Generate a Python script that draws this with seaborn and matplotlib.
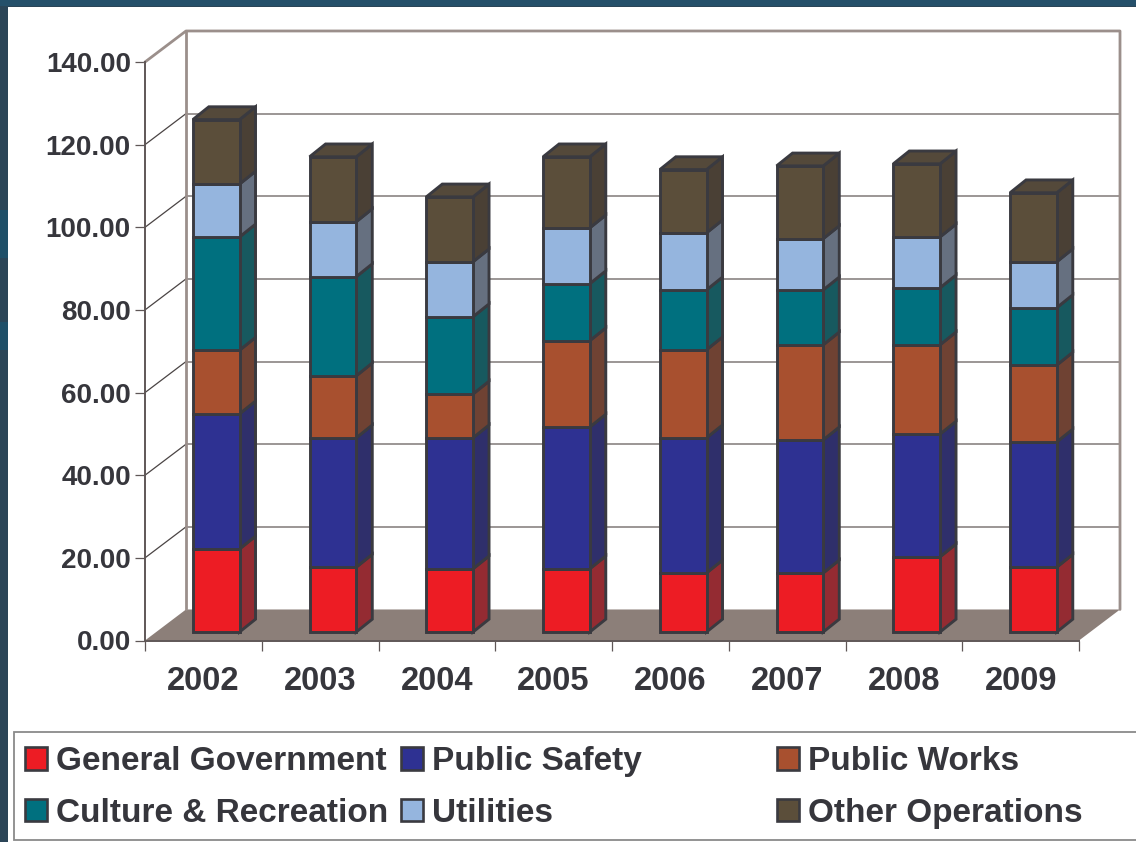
import matplotlib
matplotlib.use("Agg")
import matplotlib.pyplot as plt
from matplotlib.patches import Polygon, Rectangle, Patch
from matplotlib.transforms import Affine2D
import pandas as pd
import seaborn as sns

years = ["2002", "2003", "2004", "2005", "2006", "2007", "2008", "2009"]
general_government = [20.1, 15.7, 15.3, 15.3, 14.3, 14.3, 18.2, 15.7]
public_safety = [32.7, 31.3, 31.7, 34.3, 32.7, 32.2, 29.7, 30.3]
public_works = [15.4, 15.0, 10.6, 20.9, 21.3, 23.0, 21.6, 18.6]
culture_recreation = [27.4, 24.0, 18.7, 13.8, 14.5, 13.3, 13.8, 13.9]
utilities = [12.8, 13.3, 13.3, 13.5, 13.8, 12.4, 12.3, 11.1]
other_operations = [15.6, 15.7, 15.7, 17.2, 15.3, 17.6, 17.7, 16.7]

series_names = ["General Government", "Public Safety", "Public Works",
                "Culture & Recreation", "Utilities", "Other Operations"]
series_values = [general_government, public_safety, public_works,
                 culture_recreation, utilities, other_operations]
front_colors = ["#ed1c24", "#2e3192", "#a8502f", "#00707f", "#95b5de", "#5b4e3a"]
side_colors = ["#942b32", "#2f2f6b", "#6f4233", "#17595f", "#667080", "#4a4035"]
TOP_COLOR = "#54493a"
INK = "#36363c"
EDGE = "#3a3a40"
BAR_LW = 2.1

W, H = 1136, 842
sns.set_style("white")
plt.rcParams["font.family"] = ["Liberation Sans", "DejaVu Sans"]

fig = plt.figure(figsize=(W / 100, H / 100), dpi=100, facecolor="#2b4557")


def fig_box(x0, y0, x1, y1):
    """Figure-fraction rectangle from pixel corners measured from the top left."""
    return [x0 / W, 1 - y1 / H, (x1 - x0) / W, (y1 - y0) / H]


def page_rect(x0, y0, x1, y1, **style):
    """Add a figure-level rectangle given in pixels from the top left."""
    left, bottom, width, height = fig_box(x0, y0, x1, y1)
    fig.patches.append(Rectangle((left, bottom), width, height,
                                 transform=fig.transFigure, **style))


# Slide background: header band, lighter streaks on the left edge, white page
page_rect(0, 0, W, 6, facecolor="#25506a", edgecolor="none", zorder=-7)
page_rect(0, 210, 8, 258, facecolor="#1f4f68", edgecolor="none", zorder=-7)
page_rect(0, 322, 8, 350, facecolor="#1f4f68", edgecolor="none", zorder=-7)
page_rect(8, 7, W, H, facecolor="white", edgecolor="none", zorder=-5)

ax = fig.add_axes(fig_box(145, 62, 1079, 640.5))
ax.patch.set_alpha(0)

# Depth of the chart box and of the bars, in data units
BOX_DX, BOX_DY = 41 / 116.75, 31 / 4.13
BAR_DX, BAR_DY = 16 / 116.75, 12.8 / 4.13
BAR_WIDTH = 0.40
SHIFT_X, SHIFT_Y = 12.8 / 116.75, 8.5 / 4.13

table = pd.DataFrame({"year": years})
cumulative = [0.0] * len(years)
bars_transform = Affine2D().translate(SHIFT_X, SHIFT_Y) + ax.transData

for name, values, front, side in zip(series_names, series_values, front_colors, side_colors):
    table[name] = values
    sns.barplot(data=table, x="year", y=name, bottom=cumulative, ax=ax, color=front,
                saturation=1, width=BAR_WIDTH, errorbar=None, edgecolor=EDGE,
                linewidth=BAR_LW, zorder=4)
    for i, (base, value) in enumerate(zip(cumulative, values)):
        right = i + BAR_WIDTH / 2
        top = base + value
        ax.add_patch(Polygon(
            [(right, base), (right + BAR_DX, base + BAR_DY),
             (right + BAR_DX, top + BAR_DY), (right, top)],
            closed=True, facecolor=side, edgecolor=EDGE, linewidth=BAR_LW,
            transform=bars_transform, zorder=3, clip_on=False))
    cumulative = [c + v for c, v in zip(cumulative, values)]

# Cap on each stack
for i, total in enumerate(cumulative):
    left, right = i - BAR_WIDTH / 2, i + BAR_WIDTH / 2
    ax.add_patch(Polygon(
        [(left, total), (left + BAR_DX, total + BAR_DY),
         (right + BAR_DX, total + BAR_DY), (right, total)],
        closed=True, facecolor=TOP_COLOR, edgecolor=EDGE, linewidth=BAR_LW,
        transform=bars_transform, zorder=3, clip_on=False))

for patch in ax.patches:
    if patch.get_zorder() == 4:
        patch.set_transform(bars_transform)
        patch.set_clip_on(False)

x0, x1 = -0.5, len(years) - 0.5
y_ticks = list(range(0, 141, 20))
ax.set_xlim(x0, x1)
ax.set_ylim(0, 140)

# Chart box: floor, back wall and gridlines
ax.add_patch(Polygon([(x0, 0), (x0 + BOX_DX, BOX_DY), (x1 + BOX_DX, BOX_DY), (x1, 0)],
                     closed=True, facecolor="#8c7f79", edgecolor="none",
                     zorder=1, clip_on=False))
for v in y_ticks[1:-1]:
    ax.plot([x0 + BOX_DX, x1 + BOX_DX], [v + BOX_DY] * 2, color="#8a8483", lw=1.2,
            zorder=1.5, clip_on=False)
    ax.plot([x0, x0 + BOX_DX], [v, v + BOX_DY], color="#4a4444", lw=0.9,
            zorder=1.5, clip_on=False)
wall = dict(color="#9b8f8b", lw=2.0, zorder=1.6, clip_on=False, solid_capstyle="round")
ax.plot([x0, x0 + BOX_DX, x1 + BOX_DX, x1 + BOX_DX], [140, 140 + BOX_DY, 140 + BOX_DY, BOX_DY], **wall)
ax.plot([x0 + BOX_DX, x0 + BOX_DX], [BOX_DY, 140 + BOX_DY], **wall)

sns.despine(ax=ax, top=True, right=True)
for side_name in ("left", "bottom"):
    ax.spines[side_name].set_color("#5f5757")
    ax.spines[side_name].set_linewidth(1.4)
    ax.spines[side_name].set_zorder(2)

ax.set_xlabel("")
ax.set_ylabel("")
ax.set_yticks(y_ticks, [f"{v:.2f}" for v in y_ticks], fontsize=20, fontweight="bold", color=INK)
ax.tick_params(axis="y", length=7.2, width=0.9, color="#5f5757", pad=3, left=True)
ax.set_xticks([x0 + i for i in range(len(years) + 1)], [""] * (len(years) + 1))
ax.tick_params(axis="x", which="major", length=7.2, width=0.9, color="#5f5757", bottom=True)
ax.set_xticks(range(len(years)), years, minor=True, fontsize=23.5, fontweight="bold", color=INK)
ax.tick_params(axis="x", which="minor", length=0, pad=18)

# Legend panel with three aligned columns
page_rect(14, 732, W + 20, 840, facecolor="white", edgecolor="#8a8a8a", linewidth=1.3, zorder=-1)
legend_columns = [(25, [0, 3]), (401, [1, 4]), (777, [2, 5])]
for px, members in legend_columns:
    handles = [Patch(facecolor=front_colors[m], edgecolor=EDGE, linewidth=1.9,
                     label=series_names[m]) for m in members]
    fig.legend(handles=handles, loc="center left",
               bbox_to_anchor=(px / W, 1 - 787.5 / H), frameon=False,
               prop={"family": "Liberation Sans", "weight": "bold", "size": 24},
               labelcolor=INK, handlelength=0.66, handleheight=0.66, handletextpad=0.27,
               labelspacing=0.62, borderpad=0, borderaxespad=0)

fig.savefig("out.png", dpi=100, facecolor=fig.get_facecolor())
